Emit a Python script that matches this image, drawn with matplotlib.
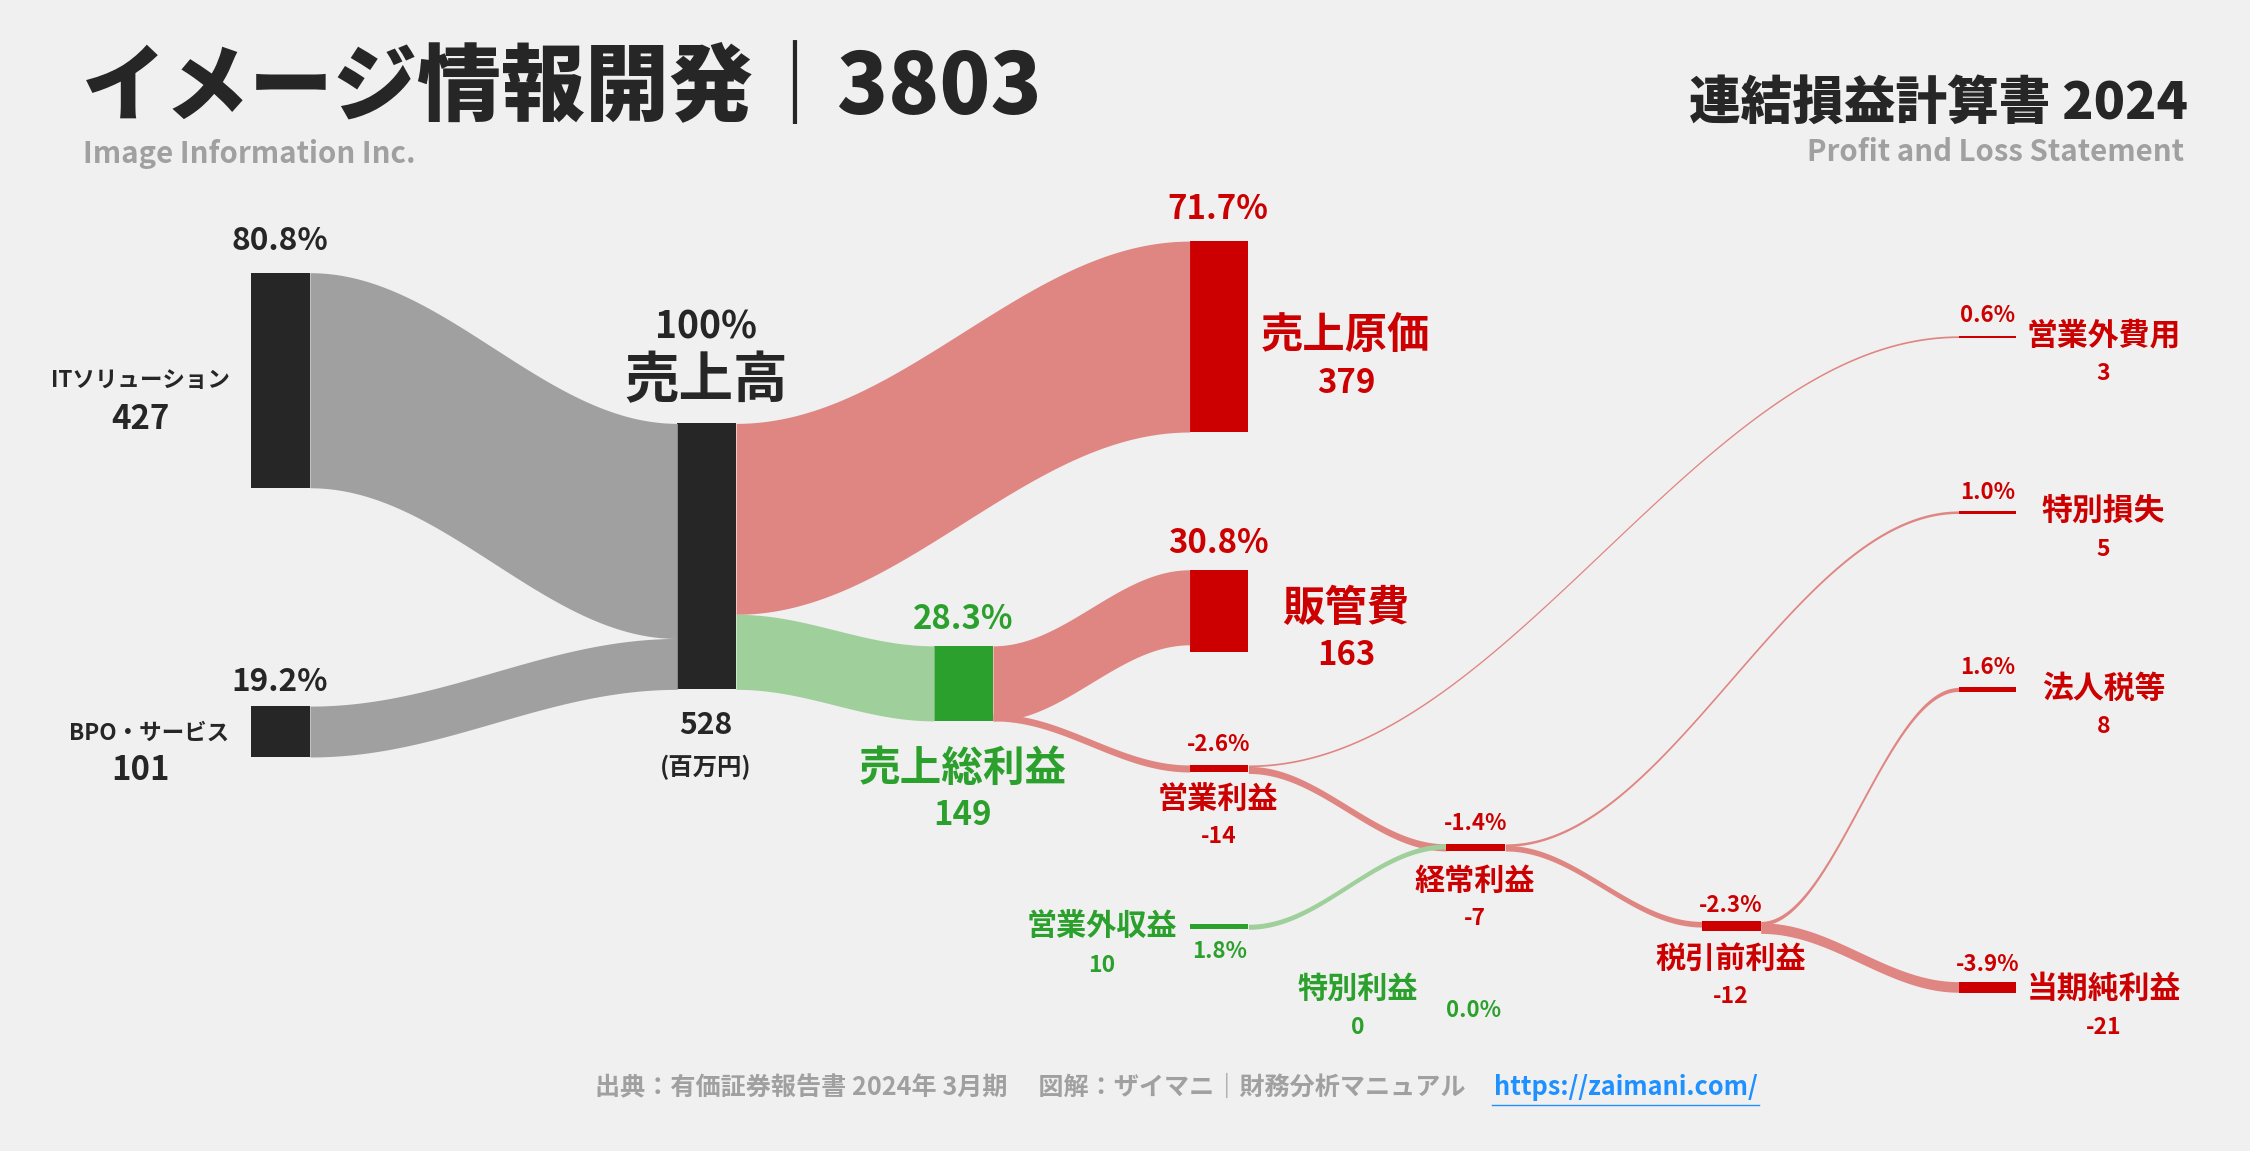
import numpy as np
import matplotlib
matplotlib.use("Agg")
import matplotlib.pyplot as plt
from matplotlib.patches import Rectangle

plt.rcParams["font.family"] = "Noto Sans CJK JP"

# ---- data (百万円) ----
segments = ["ITソリューション", "BPO・サービス"]
segment_values = [427, 101]
segment_pcts = ["80.8%", "19.2%"]
revenue = 528
cost_of_sales = 379
gross_profit = 149
sga = 163
op_profit = -14
non_op_income = 10
non_op_expense = 3
ordinary_profit = -7
special_gain = 0
special_loss = 5
pretax_profit = -12
income_tax = 8
net_profit = -21
pcts = {"cos": "71.7%", "sga": "30.8%", "gp": "28.3%", "op": "-2.6%", "noe": "0.6%",
        "sl": "1.0%", "tax": "1.6%", "net": "-3.9%", "ord": "-1.4%", "pre": "-2.3%",
        "noi": "1.8%", "sg": "0.0%"}

W, H = 1568, 802
S = 0.351  # px per unit
fig = plt.figure(figsize=(22.5, 11.51), dpi=100)
fig.patch.set_facecolor("#f0f0f0")
ax = fig.add_axes([0, 0, 1, 1])
ax.set_xlim(0, W); ax.set_ylim(H, 0); ax.axis("off")
ax.set_facecolor("#f0f0f0")

def fs(px):
    return px * (2250 / W) * 0.72

DARK = "#262626"; GRAY = "#a0a0a0"; RED = "#cc0000"; RBAND = "#e08682"
GREEN = "#2ca02c"; GBAND = "#9fd09b"

def band(x0, t0, x1, t1, th, color, alpha=1.0):
    xs = np.linspace(x0, x1, 200)
    s = (1 - np.cos(np.pi * (xs - x0) / (x1 - x0))) / 2
    top = t0 + (t1 - t0) * s
    ax.fill_between(xs, top, top + max(th, 1.2), color=color, alpha=alpha, lw=0)

def node(x, y, h, color, w=41):
    ax.add_patch(Rectangle((x, y), w, h, color=color, lw=0))

def txt(x, y, s, px, color=DARK, ha="center", weight="bold"):
    ax.text(x, y, s, fontsize=fs(px), color=color, ha=ha, va="center", fontweight=weight)

# nodes
it_y, bpo_y, rev_y = 190, 492, 295
node(175, it_y, segment_values[0] * S, DARK)
node(175, bpo_y, segment_values[1] * S, DARK)
node(472, rev_y, revenue * S, DARK)
cos_y, sga_y, gp_y = 168, 397, 450
node(829, cos_y, cost_of_sales * S, RED)
node(829, sga_y, sga * S, RED)
node(651, gp_y, gross_profit * S, GREEN)

# bands
band(216, it_y, 472, rev_y, segment_values[0] * S, GRAY)
band(216, bpo_y, 472, rev_y + segment_values[0] * S, segment_values[1] * S, GRAY)
band(513, rev_y, 829, cos_y, cost_of_sales * S, RBAND)
band(513, rev_y + cost_of_sales * S, 651, gp_y, gross_profit * S, GBAND)
band(692, gp_y, 829, sga_y, gross_profit * S, RBAND)

op_y = 533
band(692, gp_y + gross_profit * S - abs(op_profit) * S, 829, op_y, abs(op_profit) * S, RBAND)
node(829, op_y, 5, RED)
ord_y = 588
band(870, op_y, 1365, 234, non_op_expense * S, RBAND)
band(870, op_y + 1, 1008, ord_y, abs(op_profit) * S, RBAND)
noi_y = 644
node(829, noi_y, 3, GREEN)
band(870, noi_y, 1008, ord_y, non_op_income * S, GBAND)
node(1008, ord_y, 5, RED)
pre_y = 642
band(1049, ord_y, 1365, 356, special_loss * S, RBAND)
band(1049, ord_y + 1, 1186, pre_y, abs(ordinary_profit) * S + 1.5, RBAND)
node(1186, pre_y, 7, RED)
band(1227, pre_y, 1365, 479, income_tax * S, RBAND)
band(1227, pre_y + 1, 1365, 684, abs(net_profit) * S, RBAND)
node(1365, 234, 1.5, RED, 40)
node(1365, 356, 2, RED, 40)
node(1365, 479, 3, RED, 40)
node(1365, 684, 8, RED, 40)

# labels
txt(195, 168, segment_pcts[0], 22)
txt(160, 265, segments[0], 15.7, ha="right")
txt(98, 292, str(segment_values[0]), 23)
txt(195, 475, segment_pcts[1], 22)
txt(160, 511, segments[1], 15.7, ha="right")
txt(98, 537, str(segment_values[1]), 23)
txt(492, 228, "100%", 26)
txt(492, 266, "売上高", 38)
txt(492, 505, str(revenue), 21)
txt(492, 535, "(百万円)", 17)
txt(849, 146, pcts["cos"], 23, RED)
txt(938, 234, "売上原価", 29.5, RED)
txt(938, 267, str(cost_of_sales), 23, RED)
txt(849, 379, pcts["sga"], 23, RED)
txt(938, 424, "販管費", 29.5, RED)
txt(938, 457, str(sga), 23, RED)
txt(671, 432, pcts["gp"], 23, GREEN)
txt(671, 536, "売上総利益", 29, GREEN)
txt(671, 568, str(gross_profit), 23, GREEN)
txt(849, 519, pcts["op"], 15.5, RED)
txt(849, 557, "営業利益", 21, RED)
txt(849, 583, str(op_profit), 16, RED)
txt(1385, 220, pcts["noe"], 15.5, RED)
txt(1466, 234, "営業外費用", 21.5, RED)
txt(1466, 260, str(non_op_expense), 16, RED)
txt(1385, 343, pcts["sl"], 15.5, RED)
txt(1466, 356, "特別損失", 21.5, RED)
txt(1466, 383, str(special_loss), 16, RED)
txt(1385, 465, pcts["tax"], 15.5, RED)
txt(1466, 480, "法人税等", 21.5, RED)
txt(1466, 506, str(income_tax), 16, RED)
txt(1385, 672, pcts["net"], 15.5, RED)
txt(1466, 689, "当期純利益", 21.5, RED)
txt(1466, 716, str(net_profit), 16, RED)
txt(1028, 574, pcts["ord"], 15.5, RED)
txt(1028, 614, "経常利益", 21, RED)
txt(1028, 640, str(ordinary_profit), 16, RED)
txt(1206, 631, pcts["pre"], 15.5, RED)
txt(1206, 668, "税引前利益", 21, RED)
txt(1206, 694, str(pretax_profit), 16, RED)
txt(768, 645, "営業外収益", 21, GREEN)
txt(768, 673, str(non_op_income), 16, GREEN)
txt(850, 663, pcts["noi"], 15.5, GREEN)
txt(946, 689, "特別利益", 21, GREEN)
txt(946, 716, str(special_gain), 16, GREEN)
txt(1027, 704, pcts["sg"], 15.5, GREEN)

# titles
txt(57, 62, "イメージ情報開発｜3803", 58.5, DARK, ha="left", weight="black")
txt(58, 107, "Image Information Inc.", 20.5, "#a0a0a0", ha="left")
txt(1525, 72, "連結損益計算書 2024", 36, DARK, ha="right", weight="black")
txt(1522, 106, "Profit and Loss Statement", 20.5, "#a0a0a0", ha="right")
txt(718, 758, "出典：有価証券報告書 2024年 3月期　 図解：ザイマニ｜財務分析マニュアル", 17.5, "#a0a0a0")
txt(1133, 758, "https://zaimani.com/", 17.6, "#1e90ff")
ax.plot([1040, 1226], [770, 770], color="#1e90ff", lw=1)

fig.savefig("out.png", dpi=100, facecolor=fig.get_facecolor())
